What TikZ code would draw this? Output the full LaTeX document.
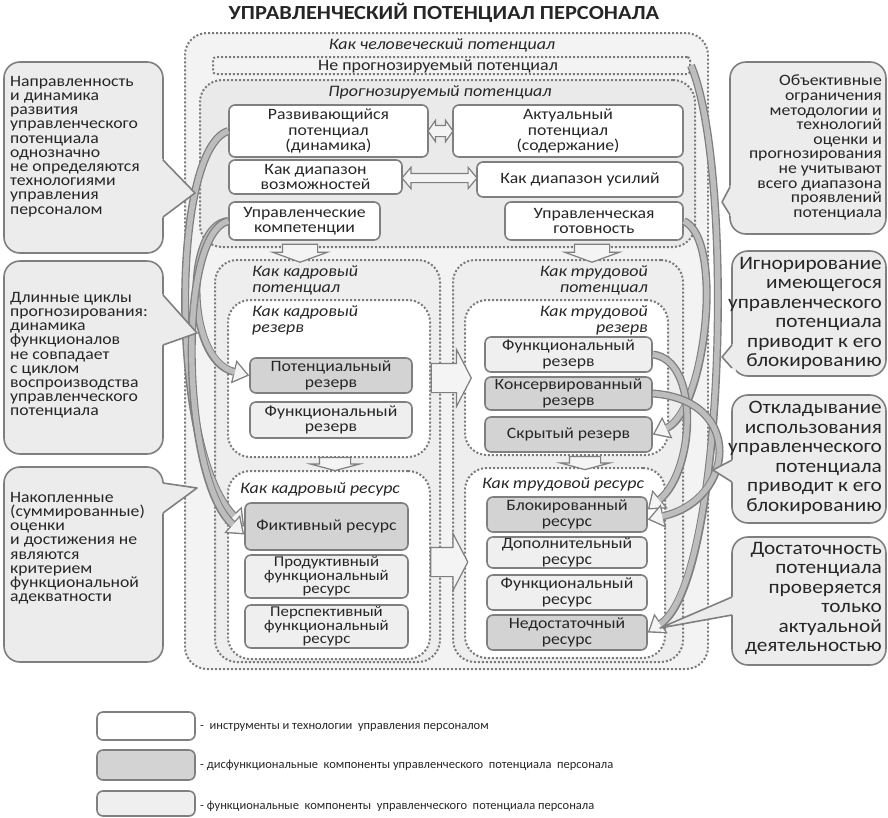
\documentclass[tikz,border=0pt]{standalone}
\usepackage{fontspec}
\setmainfont{Carlito}[FakeStretch=1.12]
\newfontfamily\legendfont{Carlito}
\usepackage{pgf, tikz}
\usetikzlibrary{arrows.meta, shapes.arrows, calc}
\pgfdeclarelayer{bglayer}
\pgfdeclarelayer{nodelayer}
\pgfdeclarelayer{edgelayer}
\pgfsetlayers{bglayer,nodelayer,edgelayer,main}
\definecolor{lineg}{HTML}{7F7F7F}
\definecolor{dotg}{HTML}{7A7A7A}
\definecolor{darkf}{HTML}{D3D3D3}
\definecolor{lightf}{HTML}{EFEFEF}
\definecolor{calf}{HTML}{ECECEC}
\definecolor{outerf}{HTML}{F3F3F3}
\definecolor{progf}{HTML}{EAEAEA}
\definecolor{potf}{HTML}{EEEEEE}
\definecolor{bandf}{HTML}{BDBDBD}
\definecolor{headf}{HTML}{F4F4F4}
\definecolor{txt}{HTML}{262626}
\tikzstyle{frame}=[draw=dotg, line width=2pt, dash pattern=on 2pt off 2pt, rounded corners=22pt, inner sep=0pt]
\tikzstyle{tag}=[inner sep=0pt, text=txt, font=\itshape\fontsize{16}{16}\selectfont]
\tikzstyle{box}=[draw=lineg, line width=1.6pt, rounded corners=6pt, fill=white, align=center, inner sep=0pt, text=txt, font=\fontsize{15.8}{15.5}\selectfont]
\tikzstyle{dysbox}=[style=box, fill=darkf]
\tikzstyle{funbox}=[style=box, fill=lightf]
\tikzstyle{note}=[draw=lineg, line width=1.6pt, rounded corners=16pt, fill=calf, inner sep=0pt]
\tikzstyle{notetext}=[inner sep=0pt, text=txt, font=\fontsize{15.8}{14.2}\selectfont]
\tikzstyle{bignotetext}=[inner sep=0pt, text=txt, align=right, font=\fontsize{19}{19.5}\selectfont]
\tikzstyle{legendtext}=[inner sep=0pt, text=txt, anchor=west, font=\legendfont\fontsize{12.5}{14}\selectfont]
\tikzstyle{blockarrow}=[draw=lineg, line width=1.2pt, fill=headf, inner xsep=0pt]
\tikzstyle{pointerline}=[draw=lineg, line width=1.6pt, line join=round]
\tikzstyle{bandout}=[draw=lineg, line width=8pt, -{Triangle[length=16pt, width=24pt, line width=0pt]}]
\tikzstyle{bandin}=[draw=bandf, line width=5.4pt, shorten >=2.3pt, -{Triangle[length=12.4pt, width=18.6pt, line width=0pt, color=headf, fill=headf]}]
\newcommand{\flow}[1]{\draw [style=bandout] #1; \draw [style=bandin] #1;}
\newcommand{\pointer}[3]{\fill [calf] (#3) -- ($(#3)!1.4!(#1)$) -- ($(#3)!1.4!(#2)$) -- cycle; \draw [style=pointerline] (#1) -- (#3) -- (#2);}

\begin{document}
\lineskiplimit=-50pt
\begin{tikzpicture}[x=1pt, y=-1pt]
	\useasboundingbox (0, 0) rectangle (888, 817);
	\begin{pgfonlayer}{bglayer}
		\node [style=frame, fill=outerf, minimum width=523pt, minimum height=636pt] (1) at (446.5, 351) {};
		\node [style=frame, fill=outerf, rounded corners=3pt, minimum width=477pt, minimum height=17pt] (2) at (451.5, 65.5) {};
		\node [style=frame, fill=progf, minimum width=495pt, minimum height=167pt] (3) at (447.5, 163.5) {};
		\node [style=frame, fill=potf, minimum width=225pt, minimum height=402pt] (4) at (327.5, 461) {};
		\node [style=frame, fill=white, minimum width=202pt, minimum height=157pt] (5) at (329, 378.5) {};
		\node [style=frame, fill=white, minimum width=202pt, minimum height=188pt] (6) at (329, 565) {};
		\node [style=frame, fill=potf, minimum width=230pt, minimum height=402pt] (7) at (568, 461) {};
		\node [style=frame, fill=white, minimum width=203pt, minimum height=155pt] (8) at (566.5, 377.5) {};
		\node [style=frame, fill=white, minimum width=200pt, minimum height=190pt] (9) at (565, 563) {};
		\node [style=tag] (41) at (442, 45) {Как человеческий потенциал};
		\node [inner sep=0pt, text=txt, font=\fontsize{16}{16}\selectfont] (64) at (438, 66) {Не прогнозируемый потенциал};
		\node [style=tag] (42) at (440, 92) {Прогнозируемый потенциал};
		\node [style=tag, anchor=north west, align=left] (43) at (252, 265) {Как кадровый\\потенциал};
		\node [style=tag, anchor=north west, align=left] (44) at (252, 305) {Как кадровый\\резерв};
		\node [style=tag, anchor=west] (45) at (240, 489) {Как кадровый ресурс};
		\node [style=tag, anchor=north east, align=right] (46) at (648, 265) {Как трудовой\\потенциал};
		\node [style=tag, anchor=north east, align=right] (47) at (648, 305) {Как трудовой\\резерв};
		\node [style=tag, anchor=west] (48) at (482, 484) {Как трудовой ресурс};
	\end{pgfonlayer}
	\begin{pgfonlayer}{nodelayer}
		\node [text=txt, font=\bfseries\fontsize{20}{24}\selectfont] (0) at (444, 13) {УПРАВЛЕНЧЕСКИЙ ПОТЕНЦИАЛ ПЕРСОНАЛА};
		\node [style=box, minimum width=199pt, minimum height=52pt] (10) at (328.5, 131) {Развивающийся\\потенциал\\(динамика)};
		\node [style=box, minimum width=230pt, minimum height=52pt] (11) at (568, 131) {Актуальный\\потенциал\\(содержание)};
		\node [style=box, minimum width=173pt, minimum height=34pt] (12) at (315.5, 177) {Как диапазон\\возможностей};
		\node [style=box, minimum width=206pt, minimum height=35pt] (13) at (580, 179.5) {Как диапазон усилий};
		\node [style=box, minimum width=151pt, minimum height=38pt] (14) at (304.5, 221) {Управленческие\\компетенции};
		\node [style=box, minimum width=178pt, minimum height=38pt] (15) at (594, 221) {Управленческая\\готовность};
		\node [style=dysbox, minimum width=162pt, minimum height=35pt] (16) at (331, 375.5) {Потенциальный\\резерв};
		\node [style=funbox, minimum width=162pt, minimum height=36pt] (17) at (331, 420) {Функциональный\\резерв};
		\node [style=dysbox, minimum width=163pt, minimum height=47pt] (18) at (326.5, 526.5) {Фиктивный ресурс};
		\node [style=funbox, minimum width=163pt, minimum height=43pt, font=\fontsize{15}{13.5}\selectfont] (19) at (326.5, 576.5) {Продуктивный\\функциональный\\ресурс};
		\node [style=funbox, minimum width=163pt, minimum height=43pt, font=\fontsize{15}{13.5}\selectfont] (20) at (326.5, 626.5) {Перспективный\\функциональный\\ресурс};
		\node [style=funbox, minimum width=167pt, minimum height=35pt] (21) at (568.5, 354.5) {Функциональный\\резерв};
		\node [style=dysbox, minimum width=167pt, minimum height=33pt] (22) at (568.5, 393.5) {Консервированный\\резерв};
		\node [style=dysbox, minimum width=167pt, minimum height=35pt] (23) at (568.5, 434.5) {Скрытый резерв};
		\node [style=dysbox, minimum width=160pt, minimum height=35pt] (24) at (567, 514.5) {Блокированный\\ресурс};
		\node [style=funbox, minimum width=160pt, minimum height=31pt] (25) at (567, 552.5) {Дополнительный\\ресурс};
		\node [style=funbox, minimum width=160pt, minimum height=35pt] (26) at (567, 592.5) {Функциональный\\ресурс};
		\node [style=dysbox, minimum width=160pt, minimum height=35pt] (27) at (567, 632.5) {Недостаточный\\ресурс};
		\node [style=note, minimum width=159pt, minimum height=191pt] (28) at (83.5, 157.5) {};
		\node [style=note, minimum width=159pt, minimum height=193pt] (29) at (83.5, 357.5) {};
		\node [style=note, minimum width=159pt, minimum height=195pt] (30) at (83.5, 564.5) {};
		\node [style=note, minimum width=156pt, minimum height=172pt] (31) at (808, 148) {};
		\node [style=note, minimum width=154pt, minimum height=125pt] (32) at (809, 313.5) {};
		\node [style=note, minimum width=154pt, minimum height=128pt] (33) at (809, 459) {};
		\node [style=note, minimum width=154pt, minimum height=128pt] (34) at (809, 601) {};
		\node [style=notetext, anchor=north west, align=left] (35) at (10, 76) {Направленность\\и динамика\\развития\\управленческого\\потенциала\\однозначно\\не определяются\\технологиями\\управления\\персоналом};
		\node [style=notetext, anchor=north west, align=left] (36) at (10, 292) {Длинные циклы\\прогнозирования:\\динамика\\функционалов\\не совпадает\\с циклом\\воспроизводства\\управленческого\\потенциала};
		\node [style=notetext, anchor=north west, align=left] (37) at (10, 492) {Накопленные\\(суммированные)\\оценки\\и достижения не\\являются\\критерием\\функциональной\\адекватности};
		\node [style=notetext, anchor=north east, align=right, font=\fontsize{15.8}{14.6}\selectfont] (38) at (882, 75) {Объективные\\ограничения\\методологии и\\технологий\\оценки и\\прогнозирования\\не учитывают\\всего диапазона\\проявлений\\потенциала};
		\node [style=bignotetext, anchor=north east] (39) at (882, 257) {Игнорирование\\имеющегося\\управленческого\\потенциала\\приводит к его\\блокированию};
		\node [style=bignotetext, anchor=north east] (40) at (882, 401) {Откладывание\\использования\\управленческого\\потенциала\\приводит к его\\блокированию};
		\node [style=bignotetext, anchor=north east] (57) at (882, 542) {Достаточность\\потенциала\\проверяется\\только\\актуальной\\деятельностью};
		\node [style=box, minimum width=98pt, minimum height=28pt] (58) at (146, 726) {};
		\node [style=dysbox, minimum width=98pt, minimum height=30pt] (59) at (146, 765) {};
		\node [style=funbox, minimum width=98pt, minimum height=25pt] (60) at (146, 803.5) {};
		\node [style=legendtext] (61) at (200, 727) {-\ \ инструменты и технологии\ \ управления персоналом};
		\node [style=legendtext] (62) at (200, 765) {- дисфункциональные\ \ компоненты управленческого\ \ потенциала\ \ персонала};
		\node [style=legendtext] (63) at (200, 806) {- функциональные\ \ компоненты\ \ управленческого\ \ потенциала персонала};
	\end{pgfonlayer}
	\begin{pgfonlayer}{edgelayer}
		\node [style=blockarrow, double arrow, inner ysep=5pt, minimum height=25pt, double arrow head extend=5pt, double arrow tip angle=110] (49) at (440.5, 131) {};
		\node [style=blockarrow, double arrow, inner ysep=4pt, minimum height=75pt, double arrow head extend=6pt, double arrow tip angle=100] (50) at (439.5, 178) {};
		\node [style=blockarrow, single arrow, rotate=-90, inner ysep=17pt, minimum height=18pt, single arrow head extend=10pt, single arrow tip angle=140] (51) at (300, 250) {};
		\node [style=blockarrow, single arrow, rotate=-90, inner ysep=17pt, minimum height=18pt, single arrow head extend=10pt, single arrow tip angle=140] (52) at (592, 250) {};
		\node [style=blockarrow, single arrow, rotate=-90, inner ysep=15pt, minimum height=13pt, single arrow head extend=9pt, single arrow tip angle=150] (53) at (335, 462) {};
		\node [style=blockarrow, single arrow, rotate=-90, inner ysep=15pt, minimum height=13pt, single arrow head extend=9pt, single arrow tip angle=150] (54) at (585, 461) {};
		\node [style=blockarrow, single arrow, inner ysep=14pt, minimum height=40pt, single arrow head extend=14pt, single arrow tip angle=125] (55) at (447.5, 378) {};
		\node [style=blockarrow, single arrow, inner ysep=14pt, minimum height=37pt, single arrow head extend=14pt, single arrow tip angle=125] (56) at (445.5, 562) {};
		\flow{(10.west) .. controls (170, 150) and (170, 450) .. (18.west)}
		\flow{(14.west) .. controls (185, 225) and (185, 360) .. (16.west)}
		\flow{(14.west) .. controls (176, 235) and (182, 480) .. ([yshift=-8pt]18.west)}
		\flow{(2.east) .. controls (735, 170) and (725, 580) .. (27.east)}
		\flow{(15.east) .. controls (725, 240) and (705, 410) .. (23.east)}
		\flow{(21.east) .. controls (700, 360) and (695, 470) .. ([yshift=5pt]24.east)}
		\flow{(22.east) .. controls (745, 400) and (735, 500) .. ([yshift=-5pt]24.east)}
		\coordinate (t1) at (195, 193);
		\coordinate (t2) at (197, 333);
		\coordinate (t3) at (197, 488);
		\coordinate (t4) at (722, 202);
		\coordinate (t5) at (722, 357);
		\coordinate (t6) at (713, 470);
		\coordinate (t7) at (660, 628);
		\pointer{163, 160}{163, 217}{t1}
		\pointer{163, 295}{163, 345}{t2}
		\pointer{163, 483}{163, 513}{t3}
		\pointer{730, 187}{730, 215}{t4}
		\pointer{732, 345}{732, 368}{t5}
		\pointer{732, 460}{732, 482}{t6}
		\pointer{732, 597}{732, 615}{t7}
	\end{pgfonlayer}
\end{tikzpicture}
\end{document}
